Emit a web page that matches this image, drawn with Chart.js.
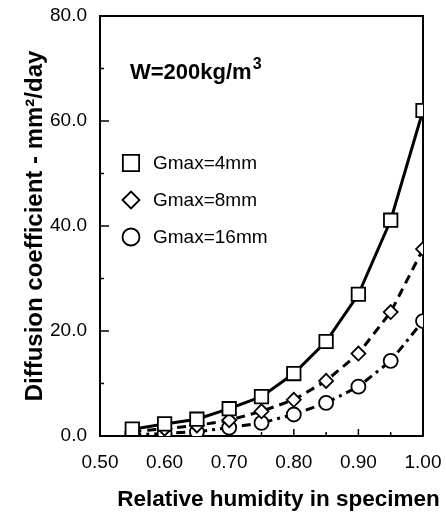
<!DOCTYPE html>
<html><head><meta charset="utf-8">
<script src="https://cdn.jsdelivr.net/npm/chart.js@4.4.0/dist/chart.umd.min.js"></script>
<style>html,body{margin:0;padding:0;background:#fff}</style>
</head><body>
<canvas id="c" width="446" height="523" style="width:446px;height:523px;display:block"></canvas>
<script>
const humidity = [0.55, 0.60, 0.65, 0.70, 0.75, 0.80, 0.85, 0.90, 0.95, 1.00];
const gmax4  = [1.3, 2.3, 3.2, 5.2, 7.5, 11.9, 18.0, 27.0, 41.1, 62.0];
const gmax8  = [0.8, 1.4, 2.0, 3.0, 4.7, 6.9, 10.5, 15.7, 23.6, 35.6];
const gmax16 = [0.2, 0.5, 0.8, 1.6, 2.5, 4.1, 6.3, 9.4, 14.3, 21.9];
const seriesLabels = ['Gmax=4mm', 'Gmax=8mm', 'Gmax=16mm'];
const xTickLabels = ['0.50', '0.60', '0.70', '0.80', '0.90', '1.00'];
const yTickLabels = ['0.0', '20.0', '40.0', '60.0', '80.0'];
const xTitle = 'Relative humidity in specimen';
const yTitle = 'Diffusion coefficient - mm\u00B2/day';
const noteMain = 'W=200kg/m';
const noteSup = '3';

const FONT = "'Liberation Sans', Arial, sans-serif";
const toPts = arr => arr.map((v, i) => ({x: humidity[i], y: v}));

const chartPlugin = {
  id: 'decor',
  beforeDatasetsDraw(chart) {
    const {ctx, chartArea: a, scales: {x, y}} = chart;
    ctx.save();
    ctx.strokeStyle = '#000';
    ctx.lineWidth = 1.5;
    for (let k = 1; k < 8; k++) {
      const py = y.getPixelForValue(k * 10);
      const len = (k % 2 === 0) ? 9 : 4;
      ctx.beginPath(); ctx.moveTo(a.left, py); ctx.lineTo(a.left + len, py); ctx.stroke();
    }
    for (let k = 1; k < 10; k++) {
      const px = x.getPixelForValue(0.5 + k * 0.05);
      const len = (k % 2 === 0) ? 7 : 4;
      ctx.beginPath(); ctx.moveTo(px, a.bottom); ctx.lineTo(px, a.bottom - len); ctx.stroke();
    }
    ctx.lineWidth = 2;
    ctx.strokeRect(a.left, a.top, a.right - a.left, a.bottom - a.top);
    ctx.restore();
  },
  afterDraw(chart) {
    const {ctx, chartArea: a} = chart;
    ctx.save();
    ctx.fillStyle = '#000';
    ctx.font = 'bold 22px ' + FONT;
    ctx.textBaseline = 'alphabetic';
    ctx.textAlign = 'left';
    const nx = a.left + 30, ny = a.top + 63;
    ctx.fillText(noteMain, nx, ny);
    const w = ctx.measureText(noteMain).width;
    ctx.font = 'bold 16px ' + FONT;
    ctx.fillText(noteSup, nx + w + 1, ny - 10);
    const rows = [a.top + 147, a.top + 184, a.top + 221];
    chart.data.datasets.forEach((ds, i) => {
      const mx = a.left + 31, my = rows[i];
      ctx.fillStyle = '#fff';
      ctx.strokeStyle = '#000';
      ctx.lineWidth = 1.8;
      Chart.helpers.drawPoint(ctx, {pointStyle: ds.pointStyle, radius: ds.legendRadius, rotation: 0, borderWidth: 1.8}, mx, my);
      ctx.fillStyle = '#000';
      ctx.font = '19px ' + FONT;
      ctx.textAlign = 'left';
      ctx.textBaseline = 'middle';
      ctx.fillText(ds.label, a.left + 53, my + 1);
    });
    ctx.font = 'bold 22.5px ' + FONT;
    ctx.textAlign = 'center';
    ctx.textBaseline = 'middle';
    ctx.fillText(xTitle, (a.left + a.right) / 2 + 17, 500);
    ctx.restore();
  }
};

new Chart(document.getElementById('c'), {
  type: 'line',
  data: {
    datasets: [
      {label: seriesLabels[0], data: toPts(gmax4), pointStyle: 'rect', pointRadius: 9.5, legendRadius: 11.5,
       borderColor: '#000', backgroundColor: '#fff', borderWidth: 3, pointBorderWidth: 1.8, borderDash: []},
      {label: seriesLabels[1], data: toPts(gmax8), pointStyle: 'rectRot', pointRadius: 7, legendRadius: 8.5,
       borderColor: '#000', backgroundColor: '#fff', borderWidth: 3, pointBorderWidth: 1.8, borderDash: [9, 6]},
      {label: seriesLabels[2], data: toPts(gmax16), pointStyle: 'circle', pointRadius: 7, legendRadius: 8.5,
       borderColor: '#000', backgroundColor: '#fff', borderWidth: 3, pointBorderWidth: 1.8, borderDash: [9, 5, 3, 5]}
    ]
  },
  options: {
    responsive: false,
    animation: false,
    layout: {padding: {left: 0, right: 23, top: 16, bottom: 0}},
    plugins: {legend: {display: false}, tooltip: {enabled: false}},
    elements: {line: {tension: 0}},
    scales: {
      x: {
        type: 'linear', min: 0.5, max: 1.0,
        afterBuildTicks: s => { s.ticks = xTickLabels.map(t => ({value: parseFloat(t)})); },
        ticks: {callback: v => xTickLabels.find(t => Math.abs(parseFloat(t) - v) < 1e-6) || '',
                color: '#000', font: {family: FONT, size: 19}, padding: 15, maxRotation: 0, autoSkip: false},
        grid: {display: false, drawTicks: false},
        border: {display: false},
        afterFit: s => { s.height = 87; s.paddingLeft = 0; s.paddingRight = 0; }
      },
      y: {
        type: 'linear', min: 0, max: 80,
        afterBuildTicks: s => { s.ticks = yTickLabels.map(t => ({value: parseFloat(t)})); },
        ticks: {callback: v => yTickLabels.find(t => Math.abs(parseFloat(t) - v) < 1e-6) || '',
                color: '#000', font: {family: FONT, size: 19}, padding: 13},
        grid: {display: false, drawTicks: false},
        border: {display: false},
        title: {display: true, text: yTitle, color: '#000', font: {family: FONT, size: 24, weight: 'bold'}, padding: {top: 21, bottom: 0}},
        afterFit: s => { s.width = 100; s.paddingTop = 0; s.paddingBottom = 0; }
      }
    }
  },
  plugins: [chartPlugin]
});
</script>
</body></html>
